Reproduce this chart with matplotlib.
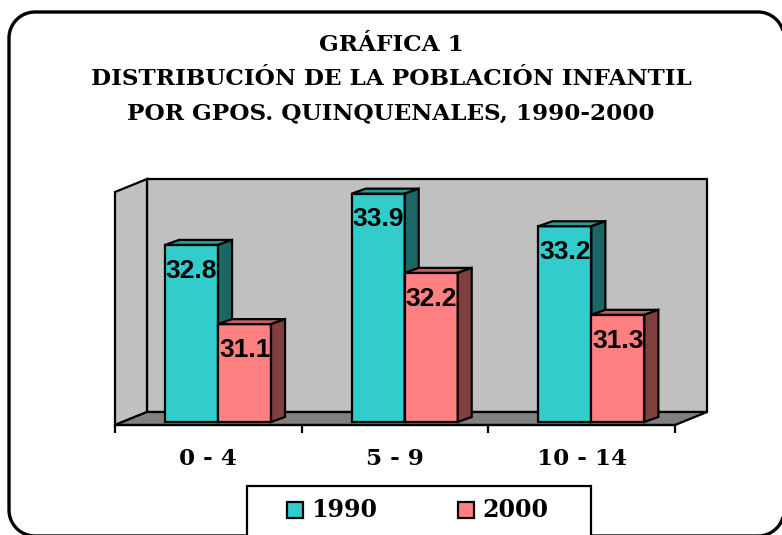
import matplotlib
matplotlib.use("Agg")
import numpy as np
import matplotlib.pyplot as plt
from matplotlib.patches import Polygon, Rectangle
from matplotlib.transforms import IdentityTransform

# --- data ---
categories = ["0 - 4", "5 - 9", "10 - 14"]
series_names = ["1990", "2000"]
values_1990 = [32.8, 33.9, 33.2]
values_2000 = [31.1, 32.2, 31.3]
title_lines = ["GRÁFICA 1",
               "DISTRIBUCIÓN DE LA POBLACIÓN INFANTIL",
               "POR GPOS. QUINQUENALES, 1990-2000"]

# --- styles ---
W, H, DPI = 782, 535, 100
front_cols = ["#33CCCC", "#FF8080"]
top_cols = ["#2A9999", "#C06060"]
side_cols = ["#1C6666", "#804040"]
wall_col, floor_col = "#C0C0C0", "#808080"
serif = "DejaVu Serif"
sans = "Liberation Sans"
lw = 1.6

def fx(x):  # image px -> figure fraction
    return x / W

def fy(y):
    return 1 - y / H

def round_rect(xa, ya, xb, yb, r, n=20):
    # polyline of a rounded rectangle in display px (y up)
    pts = []
    for cx, cy, a0 in [(xb - r, yb - r, 0), (xa + r, yb - r, 90),
                       (xa + r, ya + r, 180), (xb - r, ya + r, 270)]:
        t = np.radians(np.linspace(a0, a0 + 90, n))
        pts += list(zip(cx + r * np.cos(t), cy + r * np.sin(t)))
    return pts

fig = plt.figure(figsize=(W / DPI, H / DPI), dpi=DPI)

# outer rounded frame, runs off the right/bottom edge
fig.add_artist(Polygon(round_rect(9, H - 536, 784, H - 12, 26), closed=True,
                       transform=IdentityTransform(), fc="none", ec="black", lw=2.4))

# title
for i, line in enumerate(title_lines):
    fig.text(0.5, fy(45 + 34 * i), line, ha="center", va="center",
             fontsize=16.7, fontweight="bold", family=serif)

# front plane of the plot
ax_l, ax_r, ax_b, ax_t = 115, 675, 425, 192
ax = fig.add_axes([fx(ax_l), fy(ax_b), fx(ax_r - ax_l), (ax_b - ax_t) / H])
ymin, ymax = 29, 34
ax.set_xlim(-0.5, 2.5)
ax.set_ylim(ymin, ymax)
ax.patch.set_alpha(0)
ux = (ax_r - ax_l) / 3.0          # px per x unit
uy = (ax_b - ax_t) / (ymax - ymin)  # px per y unit

# depth offsets, px -> data units
WX, WY = 32 / ux, 13 / uy     # wall depth
BX, BY = 9.7 / ux, 3 / uy     # bar front plane
DX, DY = 14 / ux, 5 / uy      # bar depth
bw = 53 / ux                  # bar width

x0, x1 = -0.5, 2.5
walls = [
    ([(x0 + WX, ymin + WY), (x1 + WX, ymin + WY), (x1 + WX, ymax + WY), (x0 + WX, ymax + WY)], wall_col),
    ([(x0, ymin), (x0 + WX, ymin + WY), (x0 + WX, ymax + WY), (x0, ymax)], wall_col),
    ([(x0, ymin), (x1, ymin), (x1 + WX, ymin + WY), (x0 + WX, ymin + WY)], floor_col),
]
for pts, c in walls:
    ax.add_patch(Polygon(pts, closed=True, fc=c, ec="black", lw=lw, clip_on=False))

for i in range(len(categories)):
    for s, vals in enumerate([values_1990, values_2000]):
        v = vals[i]
        left = i - bw + s * bw + BX
        right = left + bw
        bot = ymin + BY
        top = v + BY
        ax.bar(left, v - ymin, bottom=bot, width=bw, align="edge",
               color=front_cols[s], edgecolor="black", lw=lw, clip_on=False, zorder=3)
        ax.add_patch(Polygon([(left, top), (right, top), (right + DX, top + DY), (left + DX, top + DY)],
                             fc=top_cols[s], ec="black", lw=lw, clip_on=False, zorder=3))
        ax.add_patch(Polygon([(right, bot), (right + DX, bot + DY), (right + DX, top + DY), (right, top)],
                             fc=side_cols[s], ec="black", lw=lw, clip_on=False, zorder=3))
        ax.annotate(f"{v:.1f}", ((left + right) / 2, top), xytext=(0, -18.5),
                    textcoords="offset points", ha="center", va="center",
                    fontsize=19, fontweight="bold", family=sans, zorder=4)

# x axis
for sp in ["left", "right", "top"]:
    ax.spines[sp].set_visible(False)
ax.spines["bottom"].set_linewidth(lw)
ax.spines["bottom"].set_zorder(2)
ax.set_yticks([])
ax.set_xticks(range(len(categories)))
ax.set_xticklabels(categories, fontsize=16.7, fontweight="bold", family=serif)
ax.tick_params(axis="x", which="major", length=0, pad=16.5)
ax.set_xticks([-0.5, 0.5, 1.5, 2.5], minor=True)
ax.tick_params(axis="x", which="minor", length=5.5, width=lw, direction="out")

# legend box
fig.add_artist(Rectangle((fx(247), fy(560)), fx(591 - 247), (560 - 486) / H,
                         fc="white", ec="black", lw=lw, clip_on=False))
for s, (sx, tx) in enumerate([(287, 311), (458, 482)]):
    fig.add_artist(Rectangle((fx(sx), fy(518)), fx(16), 16 / H,
                             fc=front_cols[s], ec="black", lw=lw))
    fig.text(fx(tx), fy(510), series_names[s], ha="left", va="center",
             fontsize=17, fontweight="bold", family=serif)

fig.savefig("out.png", dpi=DPI)
